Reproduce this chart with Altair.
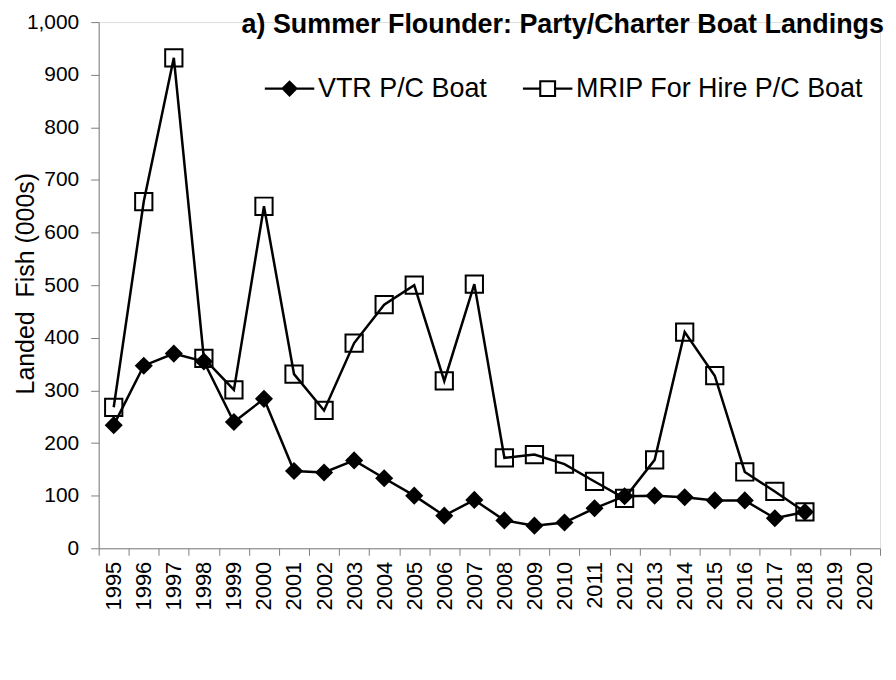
import altair as alt
import pandas as pd

years_all = list(range(1995, 2021))
years = list(range(1995, 2019))
vtr = [234, 347, 370, 355, 240, 284, 147, 144, 167, 133, 100, 62, 92, 53, 43, 49,
       76, 99, 100, 97, 91, 91, 57, 69]
mrip = [268, 659, 932, 361, 301, 650, 331, 262, 390, 463, 500, 318, 502, 172, 178, 160,
        127, 95, 168, 411, 328, 145, 108, 69]
series_names = ["VTR P/C Boat", "MRIP For Hire P/C Boat"]

df = pd.DataFrame({
    "year": years * 2,
    "value": vtr + mrip,
    "series": [series_names[0]] * len(years) + [series_names[1]] * len(years),
})

FONT = "Liberation Sans"

# legend symbols: line + marker drawn as filled paths (unit = sqrt(size)/2)
diamond_path = ("M-3.1,-0.15L3.1,-0.15L3.1,0.15L-3.1,0.15Z"
                "M0,-1.05L1.05,0L0,1.05L-1.05,0Z")
square_path = ("M-3.1,-0.15L-1,-0.15L-1,0.15L-3.1,0.15Z"
               "M1,-0.15L3.1,-0.15L3.1,0.15L1,0.15Z"
               "M-1.06,-1.06L1.06,-1.06L1.06,1.06L-1.06,1.06Z"
               "M-0.8,-0.8L-0.8,0.8L0.8,0.8L0.8,-0.8Z")

x_enc = alt.X("year:O", scale=alt.Scale(type="band", domain=years_all, paddingInner=0, paddingOuter=0),
              axis=alt.Axis(title=None, labelAngle=270, labelAlign="right", labelBaseline="middle",
                            labelPadding=6, tickBand="extent", tickSize=7, tickColor="#808080",
                            domainColor="#808080", labelFontSize=22, labelFont=FONT, labelColor="black",
                            grid=False))
y_enc = alt.Y("value:Q", scale=alt.Scale(domain=[0, 1000], nice=False),
              axis=alt.Axis(title="Landed \u00a0Fish (000s)", values=list(range(0, 1001, 100)), format=",d",
                            tickSize=8, tickColor="#808080", domainColor="#808080",
                            labelFontSize=21, labelFont=FONT, labelColor="black", labelPadding=12,
                            titleFontSize=25, titleFont=FONT, titleFontWeight="normal", titleColor="black",
                            titleX=-60, titleY=262, titleAlign="center", grid=False))

base = alt.Chart(df)

mrip_line = base.transform_filter(alt.datum.series == series_names[1]).mark_line(
    color="black", strokeWidth=2.5).encode(x=x_enc, y=y_enc)
mrip_pts = base.transform_filter(alt.datum.series == series_names[1]).mark_point(
    shape="square", size=300, filled=False, color="black", strokeWidth=2, opacity=1).encode(x=x_enc, y=y_enc)
vtr_line = base.transform_filter(alt.datum.series == series_names[0]).mark_line(
    color="black", strokeWidth=2.5).encode(x=x_enc, y=y_enc)
vtr_pts = base.transform_filter(alt.datum.series == series_names[0]).mark_point(
    shape="diamond", size=330, filled=True, color="black", opacity=1).encode(x=x_enc, y=y_enc)

legend_layer = base.mark_point(filled=True, color="black", opacity=0).encode(
    x=x_enc, y=y_enc,
    shape=alt.Shape("series:N", scale=alt.Scale(domain=series_names, range=[diamond_path, square_path]),
                    legend=alt.Legend(title=None, orient="none", legendX=178, legendY=53,
                                      direction="horizontal", symbolSize=256, symbolOpacity=1,
                                      symbolFillColor="black", symbolStrokeWidth=0,
                                      labelFontSize=27, labelFont=FONT, labelColor="black",
                                      labelOffset=15, labelLimit=500, columnPadding=35, padding=0)),
)

chart = alt.layer(mrip_line, mrip_pts, vtr_line, vtr_pts, legend_layer).properties(
    width=784, height=528,
    padding={"left": 91, "top": 13, "right": 8, "bottom": 123},
    autosize=alt.AutoSizeParams(type="none"),
    title=alt.TitleParams("a) Summer Flounder: Party/Charter Boat Landings", anchor="end",
                          fontSize=27, fontWeight="bold", font=FONT, color="black",
                          baseline="alphabetic", offset=0, dy=49, dx=4, frame="group"),
).configure_view(stroke=None).configure(background="white")

chart.save("out.html", embed_options={"renderer": "svg", "actions": False})
